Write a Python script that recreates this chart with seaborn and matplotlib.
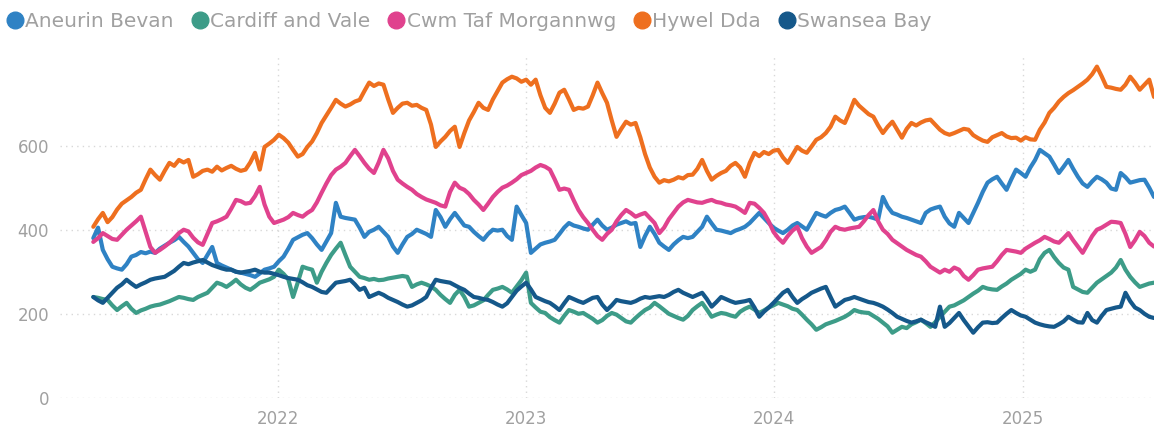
import pandas as pd
import seaborn as sns
import matplotlib.pyplot as plt
import matplotlib.dates as mdates
from matplotlib.lines import Line2D

# weekly values, first week 2021-04-04
start_date = '2021-04-04'

aneurin_bevan = [
    380, 405, 352, 330, 312, 308, 305, 318, 336, 340,
    347, 344, 348, 345, 355, 362, 369, 375, 383, 371,
    360, 345, 330, 321, 340, 359, 321, 315, 310, 305,
    300, 298, 295, 292, 288, 296, 305, 308, 312, 325,
    336, 355, 376, 382, 388, 392, 380, 365, 352, 372,
    392, 464, 431, 428, 426, 424, 405, 383, 395, 400,
    407, 395, 383, 360, 345, 365, 383, 390, 400, 395,
    390, 383, 447, 430, 407, 425, 440, 425, 410, 407,
    395, 385, 376, 390, 400, 398, 400, 385, 376, 455,
    435, 416, 345, 355, 365, 369, 372, 376, 390, 405,
    416, 410, 407, 403, 400, 412, 424, 410, 400, 405,
    412, 416, 420, 414, 416, 359, 385, 407, 390, 369,
    360, 352, 365, 375, 383, 380, 383, 395, 407, 431,
    415, 400, 398, 395, 392, 398, 402, 407, 416, 428,
    440, 428, 416, 405, 398, 392, 400, 410, 416, 408,
    400, 420, 440, 435, 431, 440, 447, 450, 455, 440,
    424, 428, 430, 431, 428, 424, 478, 455, 440, 436,
    431, 428, 424, 420, 416, 440, 448, 452, 455, 431,
    415, 407, 440, 428, 416, 440, 464, 490, 512, 520,
    526, 510, 495, 520, 543, 535, 526, 548, 566, 590,
    582, 574, 555, 535, 550, 566, 545, 526, 510, 502,
    515, 526, 520, 512, 498, 495, 535, 525, 512, 515,
    518, 519, 500, 478,
]

cardiff_and_vale = [
    240, 238, 235, 233, 220, 209, 218, 226, 212, 202,
    208, 212, 217, 220, 222, 226, 230, 235, 240, 238,
    235, 233, 240, 245, 250, 262, 274, 270, 264, 272,
    281, 270, 262, 257, 265, 274, 278, 282, 288, 305,
    295, 282, 240, 275, 312, 308, 305, 274, 300, 321,
    340, 355, 369, 340, 312, 300, 288, 285, 281, 283,
    280, 281, 284, 286, 288, 290, 288, 264, 270, 274,
    270, 265, 257, 245, 235, 226, 245, 257, 240, 217,
    220, 226, 232, 245, 257, 260, 264, 258, 250, 265,
    280, 298, 226, 215, 205, 202, 192, 185, 179, 195,
    209, 205, 200, 202, 195, 188, 179, 185, 195, 202,
    198, 190, 182, 179, 190, 200, 209, 215, 226, 218,
    209, 200, 195, 190, 186, 195, 209, 218, 226, 210,
    193, 198, 202, 200, 196, 193, 205, 212, 217, 210,
    202, 208, 215, 220, 226, 222, 218, 212, 209, 198,
    186, 175, 162, 168, 175, 179, 183, 188, 193, 200,
    209, 205, 203, 202, 195, 188, 179, 170, 155, 162,
    169, 166, 175, 180, 186, 178, 169, 180, 193, 205,
    217, 220, 226, 232, 240, 248, 255, 264, 260, 258,
    257, 265, 272, 281, 288, 295, 305, 300, 305, 330,
    345, 352, 335, 321, 310, 305, 264, 258, 252, 250,
    262, 274, 282, 290, 298, 310, 328, 305, 288, 275,
    264, 268, 272, 274,
]

cwm_taf = [
    371, 380, 392, 385, 378, 376, 388, 400, 410, 420,
    431, 395, 359, 345, 352, 360, 369, 380, 392, 400,
    396, 381, 370, 364, 390, 416, 420, 425, 431, 450,
    471, 468, 462, 464, 480, 502, 460, 431, 416, 420,
    424, 430, 440, 435, 431, 440, 447, 465, 488, 510,
    530, 543, 550, 559, 575, 590, 575, 559, 545, 535,
    560, 590, 570, 540, 519, 510, 502, 495, 485, 478,
    472, 468, 464, 458, 455, 490, 512, 500, 495, 485,
    471, 460, 447, 462, 478, 490, 500, 505, 512, 520,
    530, 535, 540, 548, 554, 550, 543, 520, 495, 498,
    495, 470, 447, 430, 416, 400, 385, 376, 390, 400,
    420, 435, 447, 440, 431, 436, 440, 428, 416, 392,
    405, 425, 440, 455, 465, 471, 468, 465, 464, 468,
    471, 466, 464, 460, 458, 455, 448, 440, 464, 462,
    452, 440, 420, 395, 380, 369, 385, 398, 407, 380,
    360, 345, 352, 359, 375, 395, 407, 402, 400, 403,
    405, 407, 420, 435, 447, 420, 400, 390, 376, 368,
    360, 352, 346, 340, 336, 325, 312, 305, 298, 305,
    300, 310, 305, 290, 281, 292, 305, 308, 310, 312,
    325, 340, 352, 350, 348, 345, 355, 362, 369, 375,
    383, 378, 372, 369, 380, 392, 375, 360, 345, 365,
    385, 400, 405, 412, 419, 418, 416, 390, 359, 375,
    395, 385, 369, 360,
]

hywel_dda = [
    407, 425, 440, 418, 430, 448, 462, 470, 478, 488,
    495, 520, 543, 530, 519, 540, 559, 552, 566, 560,
    566, 526, 532, 540, 543, 538, 550, 541, 547, 552,
    545, 540, 543, 560, 583, 543, 597, 605, 614, 626,
    618, 607, 590, 574, 580, 597, 610, 630, 654, 672,
    690, 709, 700, 693, 698, 705, 709, 730, 750, 742,
    748, 745, 710, 678, 690, 700, 702, 695, 697, 690,
    685, 650, 597, 610, 621, 635, 645, 597, 630, 660,
    680, 702, 690, 685, 710, 730, 750, 758, 764, 760,
    752, 757, 745, 757, 720, 690, 678, 700, 726, 733,
    710, 685, 690, 688, 693, 720, 750, 725, 702, 660,
    621, 640, 657, 650, 654, 620, 580, 548, 526, 512,
    518, 515, 519, 525, 522, 530, 531, 545, 566, 540,
    519, 528, 535, 540, 552, 559, 548, 526, 559, 583,
    575, 585, 580, 588, 590, 572, 559, 578, 597, 588,
    583, 598, 614, 620, 630, 645, 669, 660, 654, 680,
    709, 695, 685, 675, 669, 648, 630, 645, 657, 638,
    619, 640, 654, 648, 655, 660, 662, 650, 638, 630,
    626, 630, 635, 640, 638, 625, 618, 612, 609, 620,
    625, 630, 622, 618, 619, 612, 620, 615, 614, 638,
    655, 678, 690, 705, 716, 725, 732, 740, 748, 757,
    770, 788, 765, 740, 738, 735, 733, 745, 764, 750,
    733, 745, 757, 716,
]

swansea_bay = [
    240, 232, 226, 238, 250, 262, 270, 281, 272, 264,
    270, 275, 281, 284, 286, 288, 295, 302, 312, 321,
    318, 322, 325, 328, 322, 316, 312, 308, 305, 305,
    300, 298, 300, 302, 305, 300, 298, 298, 295, 292,
    288, 285, 283, 281, 275, 268, 264, 258, 252, 250,
    262, 274, 276, 278, 281, 270, 257, 262, 240, 245,
    250, 245, 238, 233, 228, 222, 217, 220, 226, 232,
    240, 262, 281, 278, 276, 274, 268, 262, 257, 248,
    240, 238, 235, 233, 228, 222, 217, 225, 240, 255,
    265, 274, 258, 240, 235, 230, 226, 218, 209, 225,
    240, 235, 230, 226, 232, 238, 240, 222, 209, 220,
    233, 230, 228, 226, 230, 236, 240, 238, 240, 242,
    240, 245, 252, 257, 250, 245, 240, 245, 250, 235,
    217, 228, 240, 235, 230, 226, 228, 230, 233, 215,
    193, 205, 215, 226, 238, 250, 257, 240, 226, 235,
    242, 250, 255, 260, 264, 240, 217, 225, 233, 236,
    240, 236, 232, 228, 226, 222, 217, 210, 202, 193,
    188, 183, 179, 182, 186, 180, 175, 169, 217, 169,
    178, 190, 202, 185, 170, 155, 168, 179, 180, 178,
    179, 190, 200, 209, 202, 196, 193, 186, 179, 175,
    172, 170, 169, 175, 182, 193, 186, 180, 179, 202,
    185, 179, 195, 209, 212, 215, 217, 250, 230, 215,
    209, 200, 193, 190,
]

boards = ['Aneurin Bevan', 'Cardiff and Vale', 'Cwm Taf Morgannwg', 'Hywel Dda', 'Swansea Bay']
colours = ['#2f82c4', '#3d9c88', '#e0428e', '#ee6f1f', '#15588a']
year_ticks = ['2022-01-01', '2023-01-01', '2024-01-01', '2025-01-01']
y_ticks = [0, 200, 400, 600]

series = [aneurin_bevan, cardiff_and_vale, cwm_taf, hywel_dda, swansea_bay]
weeks = pd.date_range(start_date, periods=len(hywel_dda), freq='7D')
frames = []
for name, vals in zip(boards, series):
    frames.append(pd.DataFrame({'week': weeks, 'value': vals, 'board': name}))
df = pd.concat(frames, ignore_index=True)

sns.set_style('white')
plt.rcParams['font.family'] = ['DejaVu Sans']

fig = plt.figure(figsize=(11.54, 4.32), dpi=100)
ax = fig.add_axes([0.052, 0.079, 0.948, 0.794])

palette = dict(zip(boards, colours))
sns.lineplot(data=df, x='week', y='value', hue='board', palette=palette,
             hue_order=boards, linewidth=3.0, legend=False, ax=ax)

ax.set_xlim(pd.Timestamp(start_date) - pd.Timedelta(weeks=7), weeks[-1])
ax.set_ylim(0, 816)
ax.set_xticks(pd.to_datetime(year_ticks))
ax.xaxis.set_major_formatter(mdates.DateFormatter('%Y'))
ax.set_yticks(y_ticks)
ax.set_xlabel('')
ax.set_ylabel('')
ax.grid(True, color='#d8d8d8', linestyle=(0, (1, 3)), linewidth=1)
for s in ax.spines.values():
    s.set_visible(False)
ax.tick_params(axis='both', length=0, labelsize=12, colors='#a0a0a0')
ax.tick_params(axis='x', pad=9)
ax.tick_params(axis='y', pad=8)

handles = [Line2D([0], [0], marker='o', linestyle='', markersize=12,
                  markerfacecolor=c, markeredgecolor=c) for c in colours]
fig.legend(handles, boards, loc='upper left', bbox_to_anchor=(-0.006, 1.0), ncol=5,
           frameon=False, fontsize=14.5, handletextpad=0.0, columnspacing=0.8,
           borderaxespad=0.2, labelcolor='#a0a0a0', handlelength=1.0)

fig.savefig('out.png', dpi=100)
